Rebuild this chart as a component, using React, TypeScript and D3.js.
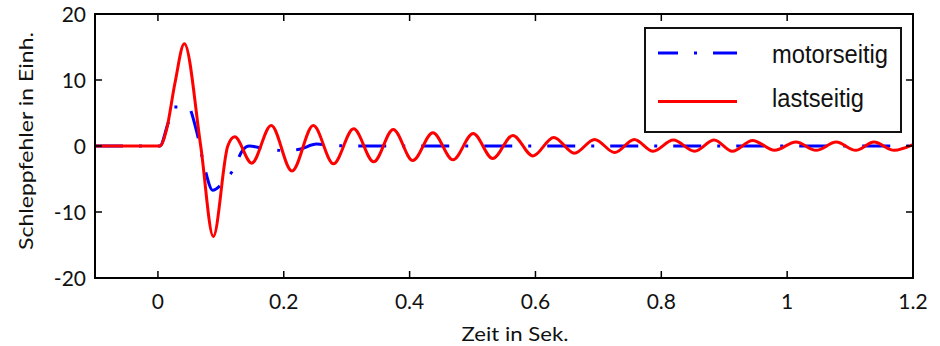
import React from "react";
import * as d3 from "d3";

const xTicks = [0, 0.2, 0.4, 0.6, 0.8, 1, 1.2];
const xTickLabels = ["0", "0.2", "0.4", "0.6", "0.8", "1", "1.2"];
const yTicks = [-20, -10, 0, 10, 20];
const yTickLabels = ["-20", "-10", "0", "10", "20"];

const seriesNames = ["motorseitig", "lastseitig"];

// motorseitig (blue, dash-dot)
const motorT = [-0.1, 0.003, 0.016, 0.026, 0.048, 0.061, 0.074, 0.087, 0.104, 0.119, 0.135, 0.145, 0.17, 0.205, 0.225, 0.252, 0.285, 0.32, 1.2];
const motorV = [0, 0, 3.4, 5.9, 5.9, 2.4, -3.2, -6.7, -5.5, -3.7, -0.6, 0, -0.4, -0.7, -0.5, 0.3, 0.05, 0, 0];

// lastseitig (red, solid)
const lastT = [-0.1, 0.003, 0.014, 0.027, 0.042, 0.068, 0.088, 0.111, 0.122, 0.149, 0.18, 0.213, 0.247, 0.279, 0.311, 0.343, 0.374, 0.405, 0.437, 0.469, 0.501, 0.532, 0.564, 0.596, 0.629, 0.662, 0.694, 0.726, 0.757, 0.787, 0.819, 0.853, 0.884, 0.913, 0.945, 0.98, 1.014, 1.046, 1.078, 1.109, 1.138, 1.17, 1.2];
const lastV = [0, 0, 2.6, 9.5, 15.5, 0, -13.7, 0, 1.4, -2.6, 3.1, -3.8, 3.1, -2.7, 2.6, -2.4, 2.5, -2.2, 2.0, -2.1, 1.9, -1.9, 1.6, -1.5, 1.3, -1.1, 1.0, -1.0, 1.0, -0.8, 0.9, -0.8, 0.9, -0.8, 0.85, -0.65, 0.6, -0.65, 0.6, -0.65, 0.6, -0.65, 0.2];

export default function App() {
  const W = 940, H = 346;
  const L = 95, R = 913, T = 14, B = 278;
  const x = d3.scaleLinear().domain([-0.1, 1.2]).range([L, R]);
  const y = d3.scaleLinear().domain([-20, 20]).range([B, T]);

  const line = d3
    .line<[number, number]>()
    .x((d) => x(d[0]))
    .y((d) => y(d[1]))
    .curve(d3.curveMonotoneX);

  const motorPts: [number, number][] = motorT.map((t, i) => [t, motorV[i]]);
  const lastPts: [number, number][] = lastT.map((t, i) => [t, lastV[i]]);

  const tickLen = 7;
  const tickFont = "Lato, 'Liberation Sans', sans-serif";
  const legendFont = "'Liberation Sans', Arial, sans-serif";

  return (
    <svg
      width={W}
      height={H}
      style={{ position: "absolute", left: 0, top: 0, background: "#fff" }}
    >
      <defs>
        <clipPath id="plotclip">
          <rect x={L} y={T} width={R - L} height={B - T} />
        </clipPath>
      </defs>
      <rect x={0} y={0} width={W} height={H} fill="#fff" />

      <g clipPath="url(#plotclip)">
        <path
          d={line(motorPts) || ""}
          fill="none"
          stroke="#0000ff"
          strokeWidth={3}
          strokeDasharray="28,16,3,16"
        />
        <path d={line(lastPts) || ""} fill="none" stroke="#ff0000" strokeWidth={3} />
      </g>

      {/* ticks */}
      {xTicks.map((t, i) => (
        <g key={"xt" + i}>
          <line x1={x(t)} x2={x(t)} y1={B} y2={B - tickLen} stroke="#000" strokeWidth={1.5} />
          <line x1={x(t)} x2={x(t)} y1={T} y2={T + tickLen} stroke="#000" strokeWidth={1.5} />
          <text
            x={x(t)}
            y={309}
            textAnchor="middle"
            fontFamily={tickFont}
            fontSize={21}
            fill="#111"
          >
            {xTickLabels[i]}
          </text>
        </g>
      ))}
      {yTicks.map((t, i) => (
        <g key={"yt" + i}>
          <line x1={L} x2={L + tickLen} y1={y(t)} y2={y(t)} stroke="#000" strokeWidth={1.5} />
          <line x1={R} x2={R - tickLen} y1={y(t)} y2={y(t)} stroke="#000" strokeWidth={1.5} />
          <text
            x={86}
            y={y(t)}
            dy="0.36em"
            textAnchor="end"
            fontFamily={tickFont}
            fontSize={21}
            fill="#111"
          >
            {yTickLabels[i]}
          </text>
        </g>
      ))}

      {/* frame */}
      <rect x={L} y={T} width={R - L} height={B - T} fill="none" stroke="#000" strokeWidth={2} />

      {/* axis titles */}
      <text
        x={515}
        y={341}
        textAnchor="middle"
        fontFamily={tickFont}
        fontSize={19}
        textLength={107}
        lengthAdjust="spacingAndGlyphs"
        fill="#111"
      >
        Zeit in Sek.
      </text>
      <text
        transform="translate(33,141) rotate(-90)"
        textAnchor="middle"
        fontFamily={tickFont}
        fontSize={20}
        textLength={218}
        lengthAdjust="spacingAndGlyphs"
        fill="#111"
      >
        Schleppfehler in Einh.
      </text>

      {/* legend */}
      <g>
        <rect x={645} y={28} width={256} height={104} fill="#fff" stroke="#111" strokeWidth={2} />
        <line
          x1={658}
          x2={737}
          y1={53}
          y2={53}
          stroke="#0000ff"
          strokeWidth={3}
          strokeDasharray="28,16,3,16"
          strokeDashoffset={8}
        />
        <line x1={658} x2={737} y1={101.5} y2={101.5} stroke="#ff0000" strokeWidth={3} />
        <text
          x={772}
          y={63}
          fontFamily={legendFont}
          fontSize={25}
          textLength={116}
          lengthAdjust="spacingAndGlyphs"
          fill="#111"
        >
          {seriesNames[0]}
        </text>
        <text
          x={772}
          y={107}
          fontFamily={legendFont}
          fontSize={25}
          textLength={92}
          lengthAdjust="spacingAndGlyphs"
          fill="#111"
        >
          {seriesNames[1]}
        </text>
      </g>
    </svg>
  );
}
